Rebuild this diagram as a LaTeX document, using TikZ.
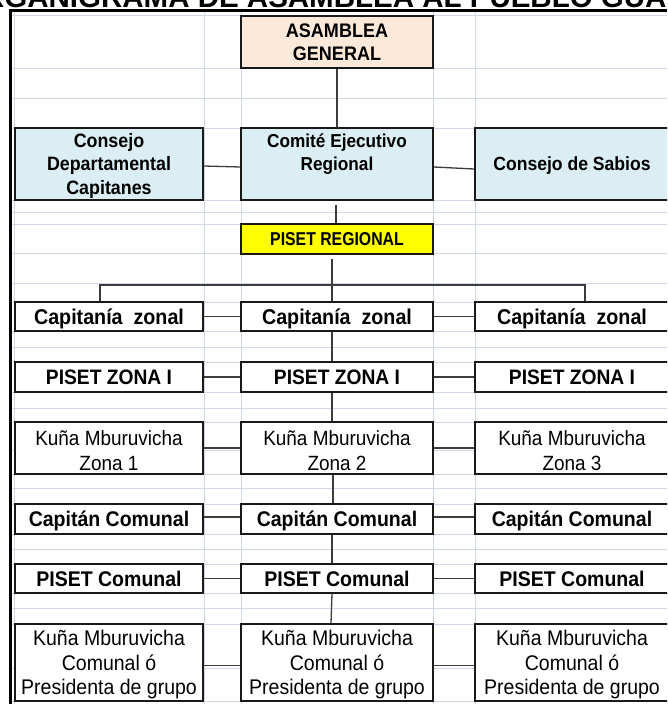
\documentclass[tikz,border=0pt]{standalone}
\usepackage{fontspec}
\setmainfont{Liberation Sans}
\newfontfamily\cfam[FakeStretch=0.92]{Liberation Sans}
\newfontfamily\narrowfam[FakeStretch=0.85]{Liberation Sans}
\newcommand{\topstr}{\rule{0pt}{1em}}
\newcommand{\botstr}{\rule[-0.284em]{0pt}{0.284em}}
\definecolor{gridc}{RGB}{208,215,229}
\definecolor{boxc}{RGB}{25,25,25}
\definecolor{connc}{RGB}{60,60,60}
\definecolor{peach}{RGB}{253,233,217}
\definecolor{aqua}{RGB}{218,238,243}
\definecolor{yel}{RGB}{255,255,0}
\begin{document}
\begin{tikzpicture}[x=1pt,y=-1pt,
  gridline/.style={draw=gridc, line width=1pt},
  box/.style={draw=boxc, line width=1.6pt, inner sep=0pt, align=center, text=black, fill=white},
  conn/.style={draw=connc, line width=1.3pt},
  lcol/.style={minimum width=188pt},
  ccol/.style={minimum width=192pt},
  rcol/.style={minimum width=194pt},
  sline/.style 2 args={font=\cfam\bfseries\fontsize{#1}{#1}\selectfont, text height=#2, text depth=0pt},
  mbold/.style 2 args={font=\cfam\bfseries\fontsize{#1}{#2}\selectfont},
  mreg/.style 2 args={font=\cfam\fontsize{#1}{#2}\selectfont}
]
\useasboundingbox (0,0) rectangle (667,704);
\clip (0,0) rectangle (667,704);
\fill[white] (0,0) rectangle (667,704);

% spreadsheet grid
\foreach \gx in {14,204,241,433,475} \draw[gridline] (\gx,12) -- (\gx,704);
\foreach \gy in {15,68,98,128,200,212,224,253,283,302,331,347,362,392,408,422,450,474,488,504,534,549,564,593,608,624,668,701}
  \draw[gridline] (12,\gy) -- (667,\gy);

% thick sheet border
\draw[line width=2.7pt, line join=miter] (10.8,704) -- (10.8,10.8) -- (667,10.8);

% title (cut off at the top)
\node[anchor=base west, inner sep=0pt, font=\bfseries\fontsize{29.5}{34}\selectfont] (title) at (-40,7) {ORGANIGRAMA DE ASAMBLEA AL PUEBLO GUARANI};

% level 1
\node[box, ccol, minimum height=52pt, fill=peach, mbold={19.6}{23}] (ag) at (337,42) {\topstr ASAMBLEA\\GENERAL\botstr};

% level 2
\node[box, lcol, minimum height=72pt, fill=aqua, mbold={19.4}{23.5}] (cdc) at (109,164) {\topstr Consejo\\Departamental\\Capitanes\botstr};
\node[box, ccol, minimum height=72pt, fill=aqua, mbold={18.7}{23}] (cer) at (337,164) {\topstr Comité Ejecutivo\\Regional\\\botstr};
\node[box, rcol, minimum height=72pt, fill=aqua, sline={19.1}{13.7pt}] (cs) at (572,164) {Consejo de Sabios};

% PISET regional
\node[box, ccol, minimum height=30pt, fill=yel, font=\narrowfam\bfseries\fontsize{18.6}{18.6}\selectfont, text height=13.3pt, text depth=0pt] (pr) at (337,239) {PISET REGIONAL};

% level 3
\node[box, lcol, minimum height=29pt, sline={21.4}{15.3pt}] (cz1) at (109,316.5) {Capitanía\ \ zonal};
\node[box, ccol, minimum height=29pt, sline={21.4}{15.3pt}] (cz2) at (337,316.5) {Capitanía\ \ zonal};
\node[box, rcol, minimum height=29pt, sline={21.4}{15.3pt}] (cz3) at (572,316.5) {Capitanía\ \ zonal};

% level 4
\node[box, lcol, minimum height=30pt, sline={20.9}{15pt}] (pz1) at (109,377) {PISET ZONA I};
\node[box, ccol, minimum height=30pt, sline={20.9}{15pt}] (pz2) at (337,377) {PISET ZONA I};
\node[box, rcol, minimum height=30pt, sline={20.9}{15pt}] (pz3) at (572,377) {PISET ZONA I};

% level 5
\node[box, lcol, minimum height=52pt, mreg={20.6}{25}] (km1) at (109,448) {\topstr Kuña Mburuvicha\\Zona 1};
\node[box, ccol, minimum height=52pt, mreg={20.6}{25}] (km2) at (337,448) {\topstr Kuña Mburuvicha\\Zona 2};
\node[box, rcol, minimum height=52pt, mreg={20.6}{25}] (km3) at (572,448) {\topstr Kuña Mburuvicha\\Zona 3};

% level 6
\node[box, lcol, minimum height=30pt, sline={21.2}{15.2pt}] (cc1) at (109,519) {Capitán Comunal};
\node[box, ccol, minimum height=30pt, sline={21.2}{15.2pt}] (cc2) at (337,519) {Capitán Comunal};
\node[box, rcol, minimum height=30pt, sline={21.2}{15.2pt}] (cc3) at (572,519) {Capitán Comunal};

% level 7
\node[box, lcol, minimum height=29pt, sline={21.2}{15.2pt}] (pc1) at (109,578.5) {PISET Comunal};
\node[box, ccol, minimum height=29pt, sline={21.2}{15.2pt}] (pc2) at (337,578.5) {PISET Comunal};
\node[box, rcol, minimum height=29pt, sline={21.2}{15.2pt}] (pc3) at (572,578.5) {PISET Comunal};

% level 8
\node[box, lcol, minimum height=77pt, mreg={21.2}{24.2}] (kc1) at (109,662.5) {\topstr Kuña Mburuvicha\\Comunal ó\\Presidenta de grupo\botstr};
\node[box, ccol, minimum height=77pt, mreg={21.2}{24.2}] (kc2) at (337,662.5) {\topstr Kuña Mburuvicha\\Comunal ó\\Presidenta de grupo\botstr};
\node[box, rcol, minimum height=77pt, mreg={21.2}{24.2}] (kc3) at (572,662.5) {\topstr Kuña Mburuvicha\\Comunal ó\\Presidenta de grupo\botstr};

% connectors, upper part
\draw[conn] (ag.south) -- (cer.north);
\draw[conn] ([yshift=-2pt]cdc.east) -- ([yshift=-3pt]cer.west);
\draw[conn] ([yshift=-3pt]cer.east) -- ([yshift=-5pt]cs.west);
\draw[conn] ([xshift=-1pt,yshift=-4pt]cer.south) -- ([xshift=-1pt]pr.north);

% distribution bar
\coordinate (barL) at (100,285);
\coordinate (barR) at (585,285);
\draw[conn] ([xshift=-5pt,yshift=-4pt]pr.south) -- ([xshift=-5pt]cz2.north);
\draw[conn] (barL |- cz1.north) -- (barL) -- (barR) -- (barR |- cz3.north);

% vertical chain, centre column
\draw[conn] ([xshift=-5pt]cz2.south) -- ([xshift=-5pt]pz2.north);
\draw[conn] ([xshift=-5pt]pz2.south) -- ([xshift=-5pt]km2.north);
\draw[conn] ([xshift=-4pt]km2.south) -- ([xshift=-4pt]cc2.north);
\draw[conn] ([xshift=-5pt]cc2.south) -- ([xshift=-5pt]pc2.north);
\draw[conn] ([xshift=-5pt]pc2.south) -- ([xshift=-6pt]kc2.north);

% horizontal links between columns
\foreach \ra/\rb/\rc/\dy in {cz1/cz2/cz3/0, pz1/pz2/pz3/0, km1/km2/km3/0, cc1/cc2/cc3/2, pc1/pc2/pc3/0, kc1/kc2/kc3/-3} {
  \draw[conn] ([yshift=\dy pt]\ra.east) -- ([yshift=\dy pt]\rb.west);
  \draw[conn] ([yshift=\dy pt]\rb.east) -- ([yshift=\dy pt]\rc.west);
}
\end{tikzpicture}
\end{document}
